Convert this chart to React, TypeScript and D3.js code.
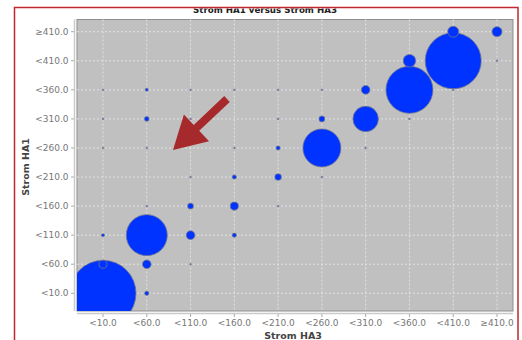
import React from "react";
import * as d3 from "d3";

const xCats = ["<10.0", "<60.0", "<110.0", "<160.0", "<210.0", "<260.0", "<310.0", "<360.0", "<410.0", "≥410.0"];
const yCats = ["<10.0", "<60.0", "<110.0", "<160.0", "<210.0", "<260.0", "<310.0", "<360.0", "<410.0", "≥410.0"];

// [HA3 category index, HA1 category index, count]
const cells: [number, number, number][] = [
  [0, 0, 1000], [0, 1, 15], [0, 2, 2], [0, 5, 1], [0, 6, 1], [0, 7, 1],
  [1, 0, 4], [1, 1, 17], [1, 2, 386], [1, 3, 1], [1, 5, 1], [1, 6, 5], [1, 7, 2],
  [2, 1, 1], [2, 2, 17], [2, 3, 8], [2, 4, 1], [2, 6, 1], [2, 7, 1],
  [3, 2, 4], [3, 3, 15], [3, 4, 4], [3, 5, 1], [3, 7, 1],
  [4, 3, 1], [4, 4, 10], [4, 5, 4], [4, 6, 1], [4, 7, 1],
  [5, 4, 1], [5, 5, 331], [5, 6, 8], [5, 7, 1],
  [6, 5, 1], [6, 6, 148], [6, 7, 17],
  [7, 6, 1], [7, 7, 507], [7, 8, 36],
  [8, 7, 1], [8, 8, 720], [8, 9, 28],
  [9, 8, 1], [9, 9, 23],
];

const title = "Strom HA1 versus Strom HA3";
const xTitle = "Strom HA3";
const yTitle = "Strom HA1";

export default function App() {
  const W = 522, H = 340;
  const plot = { l: 77, r: 513, t: 19.5, b: 311 };
  const x = d3.scalePoint<string>().domain(xCats).range([103, 497]);
  const y = d3.scalePoint<string>().domain(yCats).range([293.3, 31.7]);
  const r = d3.scaleSqrt().domain([0, 1000]).range([0, 33]);
  const font = "'DejaVu Sans', sans-serif";
  const sorted = [...cells].sort((a, b) => b[2] - a[2]);

  // annotation arrow
  const tail = [227, 99], tip = [173, 150];
  const dx = tip[0] - tail[0], dy = tip[1] - tail[1];
  const len = Math.hypot(dx, dy);
  const u = [dx / len, dy / len], n = [-u[1], u[0]];
  const sw = 4, hw = 18.3;
  const B = [tail[0] + u[0] * 42, tail[1] + u[1] * 42];
  const pts = [
    [tail[0] + n[0] * sw, tail[1] + n[1] * sw],
    [B[0] + n[0] * sw, B[1] + n[1] * sw],
    [B[0] + n[0] * hw, B[1] + n[1] * hw],
    tip,
    [B[0] - n[0] * hw, B[1] - n[1] * hw],
    [B[0] - n[0] * sw, B[1] - n[1] * sw],
    [tail[0] - n[0] * sw, tail[1] - n[1] * sw],
  ];

  return (
    <svg width={W} height={H} style={{ position: "absolute", left: 0, top: 0 }}>
      <defs>
        <clipPath id="frame"><rect x={14.5} y={8.5} width={503} height={340} /></clipPath>
        <clipPath id="plotclip"><rect x={plot.l} y={plot.t} width={plot.r - plot.l} height={plot.b - plot.t} /></clipPath>
      </defs>
      <rect x={0} y={0} width={W} height={H} fill="#fff" />
      <g clipPath="url(#frame)">
        <text x={265} y={12.8} textAnchor="middle" fontFamily={font} fontWeight="bold" fontSize={8.7} fill="#222">{title}</text>
      </g>
      <rect x={plot.l} y={plot.t} width={plot.r - plot.l} height={plot.b - plot.t} fill="#c0c0c0" stroke="#8e8e8e" strokeWidth={1} />
      {xCats.map((c) => (
        <line key={"gx" + c} x1={x(c)} x2={x(c)} y1={plot.t} y2={plot.b} stroke="#e2e2e2" strokeWidth={1} strokeDasharray="2,2" />
      ))}
      {yCats.map((c) => (
        <line key={"gy" + c} x1={plot.l} x2={plot.r} y1={y(c)} y2={y(c)} stroke="#e2e2e2" strokeWidth={1} strokeDasharray="2,2" />
      ))}
      <g clipPath="url(#plotclip)">
        {sorted.map(([xi, yi, v], i) => (
          <circle key={i} cx={x(xCats[xi])} cy={y(yCats[yi])} r={r(v)}
            fill={v <= 1 ? "#7a7f98" : "#0033ff"} stroke="#6f7490" strokeWidth={v <= 1 ? 0.3 : 0.8} />
        ))}
      </g>
      {/* axes */}
      <line x1={74.5} x2={74.5} y1={plot.t} y2={plot.b} stroke="#cacaca" strokeWidth={1.5} />
      <line x1={plot.l} x2={plot.r} y1={313.5} y2={313.5} stroke="#cacaca" strokeWidth={1.5} />
      {yCats.map((c) => (
        <g key={"ty" + c}>
          <line x1={71} x2={74} y1={y(c)} y2={y(c)} stroke="#aaa" />
          <text x={68.5} y={y(c)} dy="0.35em" textAnchor="end" fontFamily={font} fontSize={9} fill="#777">{c}</text>
        </g>
      ))}
      {xCats.map((c) => (
        <g key={"tx" + c}>
          <line x1={x(c)} x2={x(c)} y1={314} y2={317} stroke="#aaa" />
          <text x={x(c)} y={326} textAnchor="middle" fontFamily={font} fontSize={9} fill="#777">{c}</text>
        </g>
      ))}
      <text x={293} y={338.5} textAnchor="middle" fontFamily={font} fontWeight="bold" fontSize={9.5} fill="#444">{xTitle}</text>
      <text transform="translate(28.5,167) rotate(-90)" textAnchor="middle" fontFamily={font} fontWeight="bold" fontSize={9.5} fill="#444">{yTitle}</text>
      <polygon points={pts.map((p) => p.join(",")).join(" ")} fill="#a6292b" />
      <rect x={14.5} y={7.5} width={503.5} height={345} fill="none" stroke="#c1272d" strokeWidth={1.5} />
    </svg>
  );
}
